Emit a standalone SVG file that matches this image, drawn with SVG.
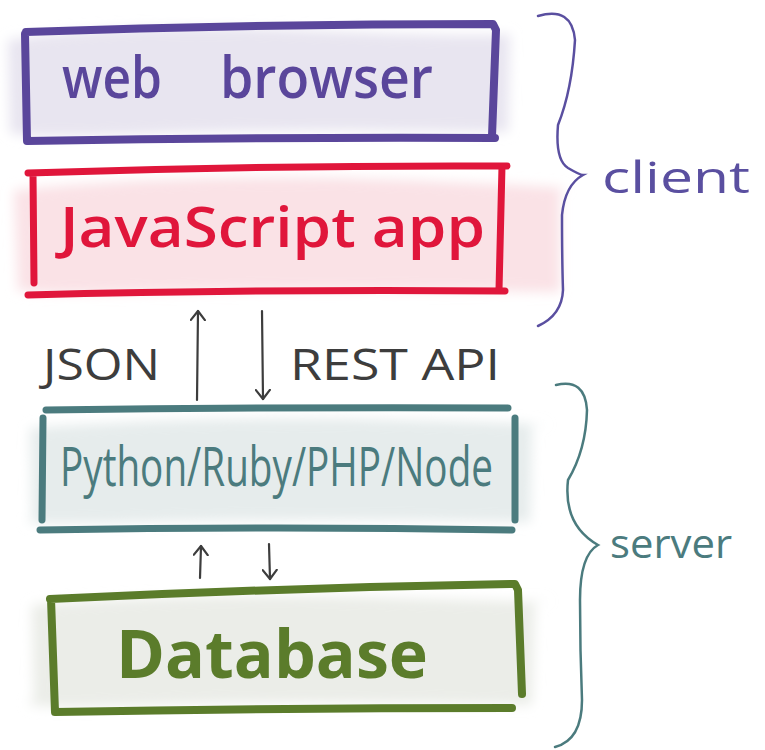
<svg xmlns="http://www.w3.org/2000/svg" width="765" height="750" viewBox="0 0 765 750">
  <defs>
    <filter id="wash" x="-10%" y="-30%" width="120%" height="160%">
      <feGaussianBlur stdDeviation="6"/>
    </filter>
    <!-- open chevron arrowhead, drawn pointing along +x so orient="auto" follows the line -->
    <marker id="head" viewBox="0 0 12 16" refX="10" refY="8" markerWidth="12" markerHeight="16" markerUnits="userSpaceOnUse" orient="auto">
      <path d="M1 1 L10 8 L1 15" fill="none" stroke="#3d3d3d" stroke-width="2.2" stroke-linecap="round" stroke-linejoin="round"/>
    </marker>
    <style>
      .label { font-family: "Open Sans", "DejaVu Sans", sans-serif; }
      .frame { fill: none; stroke-linecap: round; stroke-linejoin: round; }
      .brace { fill: none; stroke-width: 2.5; stroke-linecap: round; }
      .conn { fill: none; stroke: #3d3d3d; stroke-width: 2.2; stroke-linecap: round; }
    </style>
  </defs>
  <rect width="765" height="750" fill="#ffffff"/>

  <!-- web browser -->
  <g id="web-browser">
    <path d="M8 40 Q120 22 300 30 T510 34 L508 132 Q300 128 150 134 T10 130 Z" fill="#e8e5f0" filter="url(#wash)"/>
    <path class="frame" stroke="#5a469b" stroke-width="8" d="M26 32 Q250 24 493 24 L496 30 L492 136 M25 34 L27 141 Q260 137 495 138"/>
    <text class="label" y="98" font-size="58" font-weight="600" fill="#5a469b"><tspan x="62" textLength="100" lengthAdjust="spacingAndGlyphs">web</tspan> <tspan x="220" textLength="213" lengthAdjust="spacingAndGlyphs">browser</tspan></text>
  </g>

  <!-- JavaScript app -->
  <g id="javascript-app">
    <path d="M14 190 Q200 172 400 180 T560 190 L560 292 Q300 288 150 292 T18 286 Z" fill="#fae2e6" filter="url(#wash)"/>
    <path class="frame" stroke="#e0163b" stroke-width="7" d="M28 173 Q270 165 507 166 M33 173 L34 283 M502 166 L499 290 M28 295 Q260 289 505 291"/>
    <text class="label" x="60" y="247" font-size="56" font-weight="600" fill="#e0163b" textLength="425" lengthAdjust="spacingAndGlyphs">JavaScript app</text>
  </g>

  <!-- Python/Ruby/PHP/Node -->
  <g id="backend">
    <path d="M30 428 Q200 415 400 420 T532 425 L530 522 Q300 518 150 522 T32 520 Z" fill="#e6ecec" filter="url(#wash)"/>
    <path class="frame" stroke="#4b7b7e" stroke-width="7" d="M46 410 Q280 407 508 408 M43 418 L42 520 M515 418 L515 520 M40 530 Q280 526 512 530"/>
    <text class="label" x="60" y="486" font-size="54" fill="#4b7b7e" textLength="433" lengthAdjust="spacingAndGlyphs">Python/Ruby/PHP/Node</text>
  </g>

  <!-- Database -->
  <g id="database">
    <path d="M32 605 Q200 592 400 598 T535 600 L532 705 Q300 700 150 705 T34 700 Z" fill="#ebede8" filter="url(#wash)"/>
    <path class="frame" stroke="#5b7c2b" stroke-width="8" d="M50 599 Q280 588 515 584 L518 590 L522 694 M51 599 L55 712 Q280 708 512 708"/>
    <text class="label" x="116" y="678" font-size="66" font-weight="bold" fill="#5b7c2b" textLength="312" lengthAdjust="spacingAndGlyphs">Database</text>
  </g>

  <!-- client / server groupings -->
  <g id="client-group">
    <path class="brace" stroke="#5a4fa0" d="M538 16 Q572 6 575 40 Q572 90 558 125 Q555 160 568 168 Q580 175 583 175 Q565 185 562 215 Q562 260 563 290 Q562 315 538 326"/>
    <text class="label" x="602" y="193" font-size="44" fill="#5a4fa0" textLength="148" lengthAdjust="spacingAndGlyphs">client</text>
  </g>
  <g id="server-group">
    <path class="brace" stroke="#4b7b7e" d="M556 385 Q585 378 587 410 Q586 450 568 480 Q563 525 598 545 Q580 555 580 600 Q580 650 582 700 Q582 740 555 747"/>
    <text class="label" x="610" y="558" font-size="40" fill="#4b7b7e" textLength="122" lengthAdjust="spacingAndGlyphs">server</text>
  </g>

  <!-- connectors -->
  <g id="connectors">
    <path class="conn" d="M197 400 L198 311" marker-end="url(#head)"/>
    <path class="conn" d="M262 311 L263 399" marker-end="url(#head)"/>
    <path class="conn" d="M200 578 L201 546" marker-end="url(#head)"/>
    <path class="conn" d="M269 544 L270 579" marker-end="url(#head)"/>
    <text class="label" x="43" y="380" font-size="44" fill="#3d3d3d" textLength="117" lengthAdjust="spacingAndGlyphs">JSON</text>
    <text class="label" x="290" y="380" font-size="44" fill="#3d3d3d" textLength="210" lengthAdjust="spacingAndGlyphs">REST API</text>
  </g>
</svg>
